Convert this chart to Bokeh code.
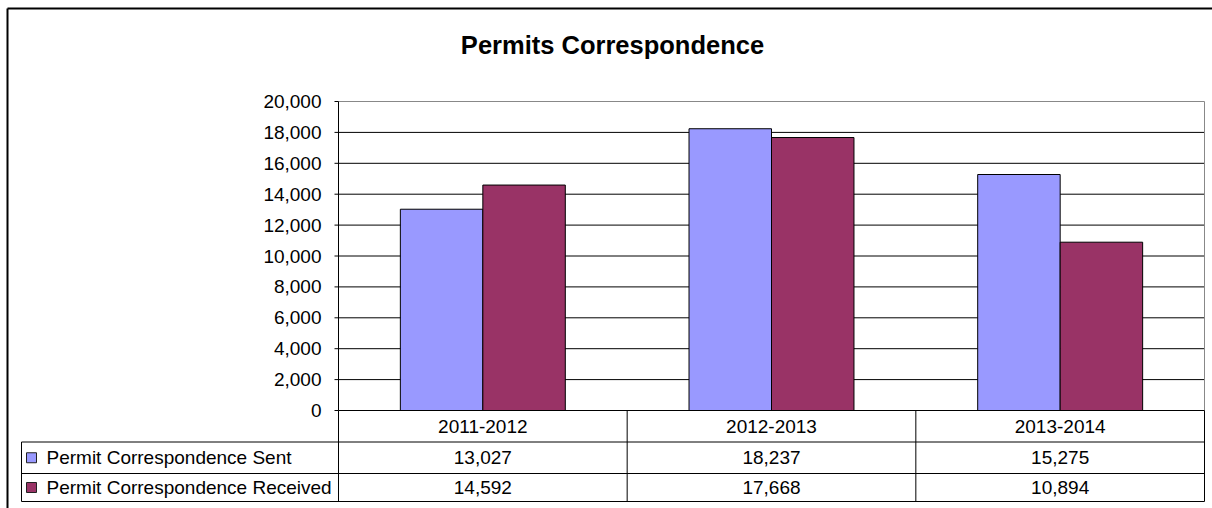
import numpy as np
from bokeh.plotting import figure
from bokeh.models import Range1d
from bokeh.core.properties import value
from bokeh.embed import file_html
from bokeh.resources import INLINE

# ---------------- data ----------------
title = "Permits Correspondence"
categories = ["2011-2012", "2012-2013", "2013-2014"]
series_names = ["Permit Correspondence Sent", "Permit Correspondence Received"]
sent = [13027, 18237, 15275]
received = [14592, 17668, 10894]
y_ticks = [0, 2000, 4000, 6000, 8000, 10000, 12000, 14000, 16000, 18000, 20000]
colors = ["#9999FF", "#993366"]

# ---------------- layout (pixels) ----------------
W, H = 1212, 508
PL, PR, PT, PB = 338, 1204, 101, 410     # plot area
ROWS = [410, 441.5, 473, 501]            # table row boundaries
TABLE_LEFT = 21
FONT = "Liberation Sans"
Y_MAX = y_ticks[-1]
n = len(categories)
xu = n / (PR - PL)
yu = Y_MAX / (PB - PT)

p = figure(width=W, height=H,
           x_range=Range1d(-PL * xu, n + (W - PR) * xu),
           y_range=Range1d(-(H - PB) * yu, Y_MAX + PT * yu),
           x_axis_type=None, y_axis_type=None, min_border=0,
           toolbar_location=None, output_backend="svg")
p.outline_line_color = None
p.background_fill_color = "white"
p.border_fill_color = "white"
p.extra_x_ranges = {"px": Range1d(0, W)}
p.extra_y_ranges = {"px": Range1d(H, 0)}

# outer chart border (left and top visible)
p.segment(x0=[7, 7], y0=[H + 5, 8], x1=[7, W + 5], y1=[8, 8],
          line_color="#000000", line_width=2,
          x_range_name="px", y_range_name="px")

# title
p.text(x=[612], y=[44], text=[title], text_font=value(FONT),
       text_font_size="25.5px", text_font_style="bold", text_color="#000000",
       text_align="center", text_baseline="middle",
       x_range_name="px", y_range_name="px")

# gridlines
inner = y_ticks[1:-1]
p.segment(x0=[0] * len(inner), x1=[n] * len(inner), y0=inner, y1=inner,
          line_color="#000000", line_width=1)
p.segment(x0=[0], x1=[n], y0=[Y_MAX], y1=[Y_MAX], line_color="#888888", line_width=1)

# bars
bw = 1 / 3.5
idx = np.arange(n) + 0.5
p.vbar(x=idx - bw / 2, width=bw, top=sent, bottom=0,
       fill_color=colors[0], line_color="#000000", line_width=1)
p.vbar(x=idx + bw / 2, width=bw, top=received, bottom=0,
       fill_color=colors[1], line_color="#000000", line_width=1)

# y axis line and ticks
p.segment(x0=[0], x1=[0], y0=[0], y1=[Y_MAX], line_color="#000000", line_width=1)
p.segment(x0=[PL - 4] * len(y_ticks), x1=[PL] * len(y_ticks), y0=y_ticks, y1=y_ticks,
          line_color="#000000", line_width=1, x_range_name="px")
p.text(x=[PL - 17] * len(y_ticks), y=y_ticks, text=[f"{t:,}" for t in y_ticks],
       text_font=value(FONT), text_font_size="19px", text_color="#000000",
       text_align="right", text_baseline="middle", x_range_name="px")
# right border of plot area
p.segment(x0=[n], x1=[n], y0=[PT], y1=[PB], line_color="#888888", line_width=1,
          y_range_name="px")

# data table
p.segment(x0=[0], x1=[n], y0=[ROWS[0]], y1=[ROWS[0]], line_color="#000000",
          line_width=1, y_range_name="px")
p.segment(x0=[TABLE_LEFT] * 3, x1=[PR] * 3, y0=ROWS[1:], y1=ROWS[1:],
          line_color="#000000", line_width=1, x_range_name="px", y_range_name="px")
p.segment(x0=[TABLE_LEFT], x1=[TABLE_LEFT], y0=[ROWS[1]], y1=[ROWS[3]],
          line_color="#000000", line_width=1, x_range_name="px", y_range_name="px")
cols = list(range(n + 1))
p.segment(x0=cols, x1=cols, y0=[ROWS[0]] * len(cols), y1=[ROWS[3]] * len(cols),
          line_color="#000000", line_width=1, y_range_name="px")

row_c = [(ROWS[i] + ROWS[i + 1]) / 2 for i in range(3)]
p.text(x=idx, y=[row_c[0]] * n, text=categories, text_font=value(FONT),
       text_font_size="19px", text_color="#000000", text_align="center",
       text_baseline="middle", y_range_name="px")
for r, vals in enumerate([sent, received]):
    p.text(x=idx, y=[row_c[r + 1]] * n, text=[f"{v:,}" for v in vals],
           text_font=value(FONT), text_font_size="19px", text_color="#000000",
           text_align="center", text_baseline="middle", y_range_name="px")

# legend keys in table
p.rect(x=[31, 31], y=row_c[1:], width=10, height=10, fill_color=colors,
       line_color="#222222", line_width=1, x_range_name="px", y_range_name="px")
p.text(x=[46, 46], y=row_c[1:], text=series_names, text_font=value(FONT),
       text_font_size="19px", text_color="#000000", text_align="left",
       text_baseline="middle", x_range_name="px", y_range_name="px")

open("out.html", "w").write(file_html(p, INLINE))
